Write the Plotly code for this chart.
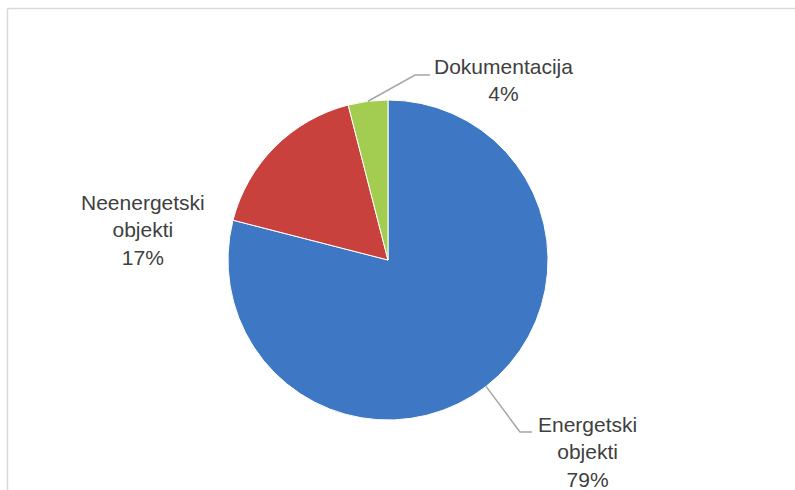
import math
import plotly.graph_objects as go

labels = ["Energetski objekti", "Neenergetski objekti", "Dokumentacija"]
label_text = ["Energetski<br>objekti<br>79%", "Neenergetski<br>objekti<br>17%", "Dokumentacija<br>4%"]
values = [79, 17, 4]
colors = ["#3E77C3", "#C8413D", "#A3CD50"]

W, H = 795, 490
cx, cy, r = 388, 260, 160

def px(x):
    return x / W

def py(y):
    return 1 - y / H

fig = go.Figure(go.Pie(
    labels=labels, values=values, sort=False, direction="clockwise", rotation=0,
    marker=dict(colors=colors, line=dict(color="white", width=1)),
    textinfo="none", hoverinfo="label+percent", showlegend=False,
    domain=dict(x=[px(cx - r), px(cx + r)], y=[py(cy + r), py(cy - r)]),
))

# label positions (layout) and leader line elbows
label_pos = [(587, 452), (143, 230), (503, 80)]
elbows = [[(520, 432), (532, 432)], None, [(415, 75), (430, 75)]]

total = sum(values)
cum = 0
shapes = []
annotations = []
for i, v in enumerate(values):
    mid = (cum + v / 2) / total * 2 * math.pi
    cum += v
    sx = cx + r * math.sin(mid)
    sy = cy - r * math.cos(mid)
    if elbows[i]:
        pts = [(sx, sy)] + elbows[i]
        path = "M " + " L ".join(f"{px(a)},{py(b)}" for a, b in pts)
        shapes.append(dict(type="path", xref="paper", yref="paper", path=path,
                           line=dict(color="#A6A6A6", width=1.5)))
    lx, ly = label_pos[i]
    annotations.append(dict(x=px(lx), y=py(ly), xref="paper", yref="paper",
                            text=label_text[i], showarrow=False, align="center",
                            xanchor="center", yanchor="middle",
                            font=dict(family="Liberation Sans, Arial", size=21, color="#404040")))

# chart-area border (top and left visible)
shapes.append(dict(type="line", xref="paper", yref="paper", x0=px(7.5), x1=1.01, y0=py(8.5), y1=py(8.5),
                   line=dict(color="#D9D9D9", width=1.5)))
shapes.append(dict(type="line", xref="paper", yref="paper", x0=px(7.5), x1=px(7.5), y0=py(8.5), y1=-0.01,
                   line=dict(color="#D9D9D9", width=1.5)))

fig.update_layout(
    width=W, height=H, margin=dict(l=0, r=0, t=0, b=0),
    paper_bgcolor="white", plot_bgcolor="white",
    shapes=shapes, annotations=annotations,
)

fig.write_html("out.html", config={"displayModeBar": False},
               post_script="document.body.style.margin='0';document.body.style.overflow='hidden';")
